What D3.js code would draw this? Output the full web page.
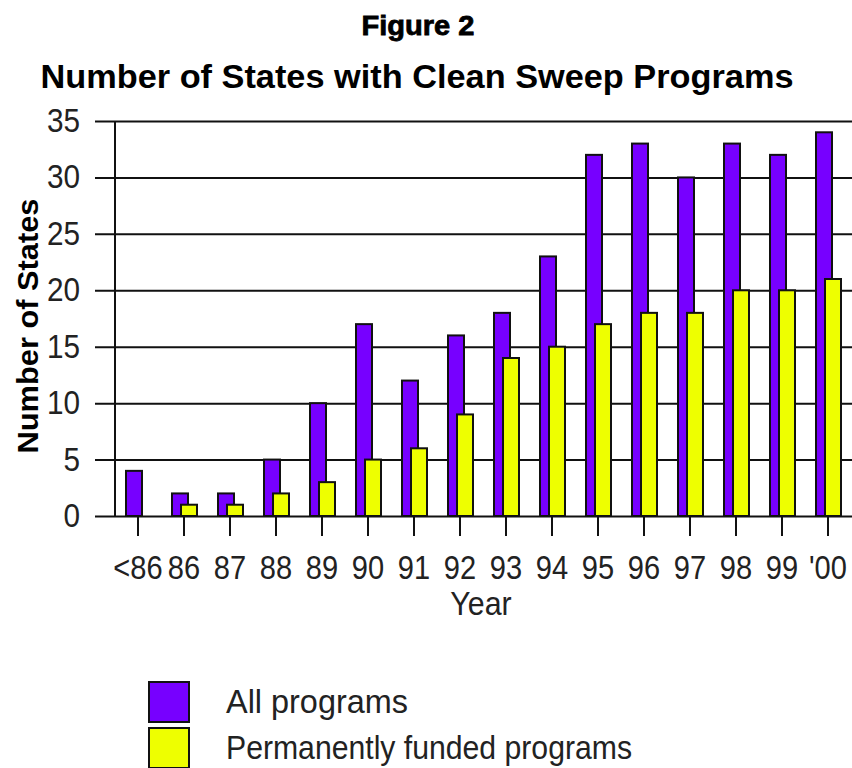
<!DOCTYPE html>
<html>
<head>
<meta charset="utf-8">
<script src="https://cdn.jsdelivr.net/npm/d3@7"></script>
<style>
  body { margin: 0; background: #fff; }
  svg { display: block; font-family: "Liberation Sans", Arial, sans-serif; }
</style>
</head>
<body>
<svg id="chart" width="852" height="768"></svg>
<script>
// chart data
var years = ['<86', '86', '87', '88', '89', '90', '91', '92', '93', '94', '95', '96', '97', '98', '99', "'00"];
var allPrograms = [4, 2, 2, 5, 10, 17, 12, 16, 18, 23, 32, 33, 30, 33, 32, 34];
var permFunded = [0, 1, 1, 2, 3, 5, 6, 9, 14, 15, 17, 18, 18, 20, 20, 21];
var yTicks = [0, 5, 10, 15, 20, 25, 30, 35];
var seriesNames = ['All programs', 'Permanently funded programs'];
var seriesColors = ['#7700ff', '#eeff00'];

var svg = d3.select('#chart');
var plot = { left: 115, right: 851, top: 121, bottom: 516 };

var x = d3.scaleBand()
  .domain(years)
  .range([plot.left, plot.right]);

var y = d3.scaleLinear()
  .domain([0, 35])
  .range([plot.bottom, plot.top]);

// the original font is a bit narrower than Liberation Sans
function squeeze(sel, k) {
  sel.each(function() {
    var w = this.getComputedTextLength();
    d3.select(this).attr('textLength', w * k).attr('lengthAdjust', 'spacingAndGlyphs');
  });
}

// titles
svg.append('text')
  .attr('x', 418).attr('y', 35)
  .attr('text-anchor', 'middle')
  .attr('textLength', 113).attr('lengthAdjust', 'spacingAndGlyphs')
  .style('font-size', '28px').style('font-weight', '900')
  .style('stroke', '#000').style('stroke-width', 0.8)
  .text('Figure 2');

svg.append('text')
  .attr('x', 417).attr('y', 88)
  .attr('text-anchor', 'middle')
  .attr('textLength', 753).attr('lengthAdjust', 'spacingAndGlyphs')
  .style('font-size', '34px').style('font-weight', 'bold')
  .text('Number of States with Clean Sweep Programs');

// y grid + labels
var yAxis = svg.append('g')
  .attr('transform', 'translate(95,0)')
  .call(d3.axisLeft(y).tickValues(yTicks).tickSizeInner(-(852 - 95)).tickSizeOuter(0).tickPadding(15));
yAxis.select('.domain').remove();
yAxis.selectAll('.tick line').attr('stroke', '#111').attr('stroke-width', 2);
yAxis.selectAll('.tick text')
  .style('font-size', '33px').style('font-family', '"Liberation Sans", Arial, sans-serif')
  .attr('fill', '#222')
  .call(squeeze, 0.9);

// vertical axis line
svg.append('line')
  .attr('x1', plot.left).attr('x2', plot.left)
  .attr('y1', y(35)).attr('y2', y(0))
  .attr('stroke', '#111').attr('stroke-width', 2);

// x ticks + labels
var xAxis = svg.append('g')
  .attr('transform', 'translate(0,' + plot.bottom + ')')
  .call(d3.axisBottom(x).tickSize(20).tickPadding(20));
xAxis.select('.domain').remove();
xAxis.selectAll('.tick line').attr('stroke', '#111').attr('stroke-width', 2);
xAxis.selectAll('.tick text')
  .style('font-size', '33px').style('font-family', '"Liberation Sans", Arial, sans-serif')
  .attr('fill', '#222')
  .call(squeeze, 0.88);

// bars
var bw = x.bandwidth();
svg.append('g').selectAll('rect')
  .data(years)
  .join('rect')
  .attr('x', d => x(d) + bw * 11 / 46)
  .attr('width', bw * 16 / 46)
  .attr('y', (d, i) => y(allPrograms[i]))
  .attr('height', (d, i) => y(0) - y(allPrograms[i]))
  .attr('fill', seriesColors[0])
  .attr('stroke', '#111').attr('stroke-width', 2);

svg.append('g').selectAll('rect')
  .data(years.filter((d, i) => permFunded[i] > 0))
  .join('rect')
  .attr('x', d => x(d) + bw * 20 / 46)
  .attr('width', bw * 16 / 46)
  .attr('y', d => y(permFunded[years.indexOf(d)]))
  .attr('height', d => y(0) - y(permFunded[years.indexOf(d)]))
  .attr('fill', seriesColors[1])
  .attr('stroke', '#111').attr('stroke-width', 2);

// axis titles
svg.append('text')
  .attr('x', 481).attr('y', 615)
  .attr('text-anchor', 'middle')
  .style('font-size', '33px').attr('fill', '#222')
  .text('Year')
  .call(squeeze, 0.92);

svg.append('text')
  .attr('transform', 'translate(38,326) rotate(-90)')
  .attr('text-anchor', 'middle')
  .attr('textLength', 255).attr('lengthAdjust', 'spacingAndGlyphs')
  .style('font-size', '30px').style('font-weight', 'bold')
  .text('Number of States');

// legend
var legend = svg.append('g').selectAll('g')
  .data(seriesNames)
  .join('g')
  .attr('transform', (d, i) => 'translate(149,' + (682 + i * 46) + ')');

legend.append('rect')
  .attr('width', 40).attr('height', 40)
  .attr('fill', (d, i) => seriesColors[i])
  .attr('stroke', '#111').attr('stroke-width', 2);

legend.append('text')
  .attr('x', 77).attr('y', 31)
  .style('font-size', '33px').attr('fill', '#222')
  .attr('textLength', (d, i) => i == 0 ? 182 : 406)
  .attr('lengthAdjust', 'spacingAndGlyphs')
  .text(d => d);
</script>
</body>
</html>
